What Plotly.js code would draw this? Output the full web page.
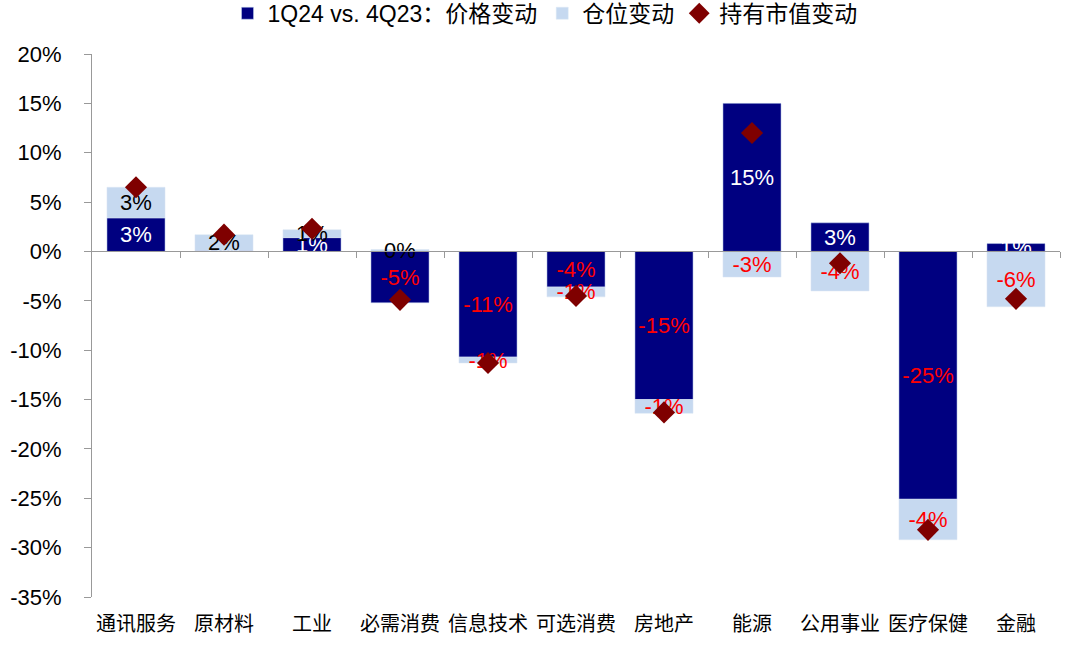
<!DOCTYPE html>
<html>
<head>
<meta charset="utf-8">
<script src="https://cdn.plot.ly/plotly-3.0.1.min.js"></script>
<style>html,body{margin:0;padding:0;background:#fff;}#chart{width:1075px;height:650px;}</style>
</head>
<body>
<div id="chart"></div>
<script>
const categories = ['通讯服务','原材料','工业','必需消费','信息技术','可选消费','房地产','能源','公用事业','医疗保健','金融'];
const priceChange = [3.4, 0.1, 1.4, -5.2, -10.7, -3.6, -15.0, 15.0, 2.9, -25.1, 0.8];
const positionChange = [3.1, 1.6, 0.8, 0.2, -0.6, -1.0, -1.4, -2.6, -4.0, -4.1, -5.6];
const marketValueChange = [6.5, 1.7, 2.3, -4.9, -11.3, -4.5, -16.3, 12.0, -1.2, -28.2, -4.8];
const yTickVals = [20, 15, 10, 5, 0, -5, -10, -15, -20, -25, -30, -35];
const seriesNames = ['1Q24 vs. 4Q23：价格变动', '仓位变动', '持有市值变动'];

const fontFam = "Arial, 'Liberation Sans', 'Noto Sans CJK SC', sans-serif";
const cjkFam = "'Noto Sans CJK SC', Arial, sans-serif";
function pct(v){ const r = Math.sign(v) * Math.round(Math.abs(v)); return (r === 0 ? 0 : r) + '%'; }

const traces = [
  {
    type: 'bar', name: seriesNames[0], x: categories, y: priceChange,
    marker: {color: '#000080', line: {color: '#C6D9F0', width: 0.5}},
    text: priceChange.map(pct), textposition: 'inside', insidetextanchor: 'middle',
    textangle: 0, constraintext: 'none',
    textfont: {family: fontFam, size: 22, color: priceChange.map(v => v < 0 ? '#FF0000' : '#FFFFFF')},
    hoverinfo: 'skip'
  },
  {
    type: 'bar', name: seriesNames[1], x: categories, y: positionChange,
    marker: {color: '#C6D9F0', line: {color: '#DCE6F2', width: 0.5}},
    text: positionChange.map(pct), textposition: 'inside', insidetextanchor: 'middle',
    textangle: 0, constraintext: 'none',
    textfont: {family: fontFam, size: 22, color: positionChange.map(v => v < 0 ? '#FF0000' : '#000000')},
    hoverinfo: 'skip'
  },
  {
    type: 'scatter', mode: 'markers', name: seriesNames[2], x: categories, y: marketValueChange,
    marker: {symbol: 'diamond', size: 17, color: '#7F0000'},
    hoverinfo: 'skip'
  },
  {
    type: 'scatter', mode: 'markers', x: [], y: [], xaxis: 'x2', yaxis: 'y',
    showlegend: false, hoverinfo: 'skip'
  }
];

const layout = {
  width: 1075, height: 650,
  margin: {l: 92, r: 15, t: 54, b: 53, autoexpand: false},
  paper_bgcolor: '#fff', plot_bgcolor: '#fff',
  barmode: 'relative', bargap: 0.34,
  uniformtext: {mode: 'show', minsize: 22},
  font: {family: fontFam, size: 20, color: '#000'},
  showlegend: true,
  legend: {orientation: 'h', x: 0.468, xanchor: 'center', y: 1.075, yanchor: 'middle',
           font: {family: fontFam, size: 23, color: '#000'}, traceorder: 'normal', itemwidth: 30},
  xaxis: {
    type: 'category', range: [-0.5, 10.5], showline: false, ticks: '', showgrid: false, zeroline: false,
    tickfont: {family: cjkFam, size: 20, color: '#000'}, ticklabelstandoff: 13, fixedrange: true
  },
  xaxis2: {
    overlaying: 'x', anchor: 'free', position: 35/55, range: [-0.5, 10.5],
    showline: true, linecolor: '#999', linewidth: 1,
    ticks: 'outside', ticklen: 6, tickcolor: '#999',
    tickvals: categories.map((c, i) => i + 0.5), showticklabels: false, showgrid: false, zeroline: false
  },
  yaxis: {
    range: [-35, 20], showline: true, linecolor: '#999', linewidth: 1,
    ticks: 'outside', ticklen: 7, tickcolor: '#999',
    tickvals: yTickVals, ticktext: yTickVals.map(v => v + '%'),
    showgrid: false, zeroline: true, zerolinecolor: '#999', zerolinewidth: 1,
    tickfont: {family: fontFam, size: 22, color: '#000'}, ticklabelstandoff: 18, fixedrange: true
  }
};

Plotly.newPlot('chart', traces, layout, {displayModeBar: false, staticPlot: true});
</script>
</body>
</html>
